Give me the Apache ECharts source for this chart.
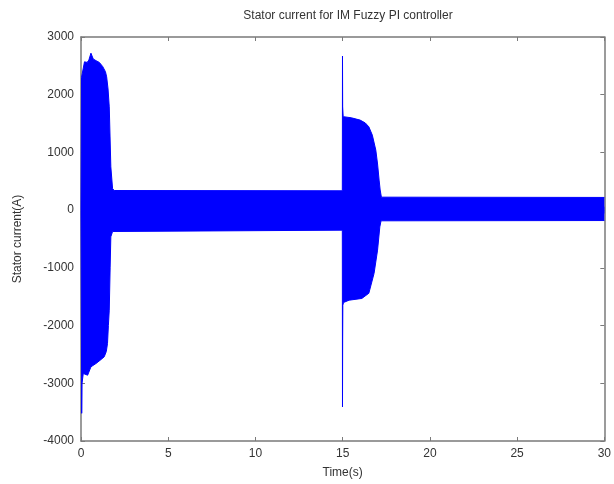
<!DOCTYPE html>
<html>
<head>
<meta charset="utf-8">
<script src="https://cdn.jsdelivr.net/npm/echarts@6/dist/echarts.min.js"></script>
<style>
  html, body { margin: 0; padding: 0; background: #fff; }
  #chart { width: 614px; height: 484px; }
</style>
</head>
<body>
<div id="chart"></div>
<script>
// envelope of the stator current band
const upperTime = [0, 0.03, 0.1, 0.2, 0.35, 0.45, 0.57, 0.7, 0.86, 1.05, 1.24, 1.4, 1.47, 1.55, 1.62, 1.71, 1.81, 1.9, 1.96,
  14.98, 14.99, 15.0, 15.03, 15.5, 16.0, 16.3, 16.5, 16.7, 16.9, 17.0, 17.09, 17.15, 17.22, 30]
const upperValue = [0, 2300, 2320, 2570, 2560, 2600, 2720, 2620, 2590, 2560, 2490, 2400, 2310, 2100, 1790, 750, 375, 340, 335,
  335, 2670, 1790, 1620, 1600, 1560, 1510, 1444, 1300, 1040, 800, 520, 350, 225, 220]

const lowerTime = [0, 0.04, 0.06, 0.13, 0.19, 0.38, 0.57, 0.86, 1.1, 1.33, 1.45, 1.52, 1.57, 1.62, 1.67, 1.71, 1.81, 1.9,
  14.98, 14.99, 15.0, 15.01, 15.05, 15.37, 16.1, 16.5, 16.8, 17.0, 17.13, 17.2, 30]
const lowerValue = [0, -3520, -3000, -2830, -2830, -2860, -2715, -2657, -2600, -2542, -2450, -2310, -2000, -1733, -1000, -462, -370, -347,
  -347, -3410, -2250, -1650, -1600, -1560, -1530, -1440, -1095, -693, -290, -185, -180]

const xTicks = [0, 5, 10, 15, 20, 25, 30]
const yTicks = [-4000, -3000, -2000, -1000, 0, 1000, 2000, 3000]

const chart = echarts.init(document.getElementById('chart'))

const axisColor = '#7a7a7a'
const textColor = '#333'
const font = 'Arial, "Liberation Sans", sans-serif'

function frameAxis(extra) {
  return Object.assign({
    type: 'value',
    axisLine: { show: true, onZero: false, lineStyle: { color: axisColor, width: 1.5 } },
    axisTick: { show: true, inside: true, length: 4, lineStyle: { color: axisColor } },
    splitLine: { show: false },
    axisLabel: { show: false }
  }, extra)
}

const labelStyle = { show: true, fontFamily: font, fontSize: 12, color: textColor, margin: 7, formatter: v => String(v) }

chart.setOption({
  animation: false,
  backgroundColor: '#fff',
  title: {
    text: 'Stator current for IM Fuzzy PI controller',
    left: 343,
    top: 5,
    textAlign: 'center',
    textStyle: { fontFamily: font, fontSize: 12, fontWeight: 'normal', color: textColor }
  },
  grid: { left: 81, right: 8, top: 37, bottom: 43 },
  xAxis: [
    frameAxis({
      min: xTicks[0], max: xTicks[xTicks.length - 1], interval: 5,
      position: 'bottom',
      name: 'Time(s)', nameLocation: 'middle', nameGap: 26,
      nameTextStyle: { fontFamily: font, fontSize: 12, color: textColor },
      axisLabel: labelStyle
    }),
    frameAxis({ min: xTicks[0], max: xTicks[xTicks.length - 1], interval: 5, position: 'top' })
  ],
  yAxis: [
    frameAxis({
      min: yTicks[0], max: yTicks[yTicks.length - 1], interval: 1000,
      position: 'left',
      name: 'Stator current(A)', nameLocation: 'middle', nameGap: 57,
      nameTextStyle: { fontFamily: font, fontSize: 12, color: textColor },
      axisLabel: labelStyle
    }),
    frameAxis({ min: yTicks[0], max: yTicks[yTicks.length - 1], interval: 1000, position: 'right' })
  ],
  series: [
    {
      type: 'line',
      data: upperTime.map((t, i) => [t, upperValue[i]]),
      showSymbol: false,
      lineStyle: { color: '#0000ff', width: 1 },
      // overlap the two halves a little so no seam shows at zero
      areaStyle: { color: '#0000ff', opacity: 1, origin: -60 },
      silent: true
    },
    {
      type: 'line',
      data: lowerTime.map((t, i) => [t, lowerValue[i]]),
      showSymbol: false,
      lineStyle: { color: '#0000ff', width: 1 },
      areaStyle: { color: '#0000ff', opacity: 1, origin: 60 },
      silent: true
    }
  ]
})
</script>
</body>
</html>
